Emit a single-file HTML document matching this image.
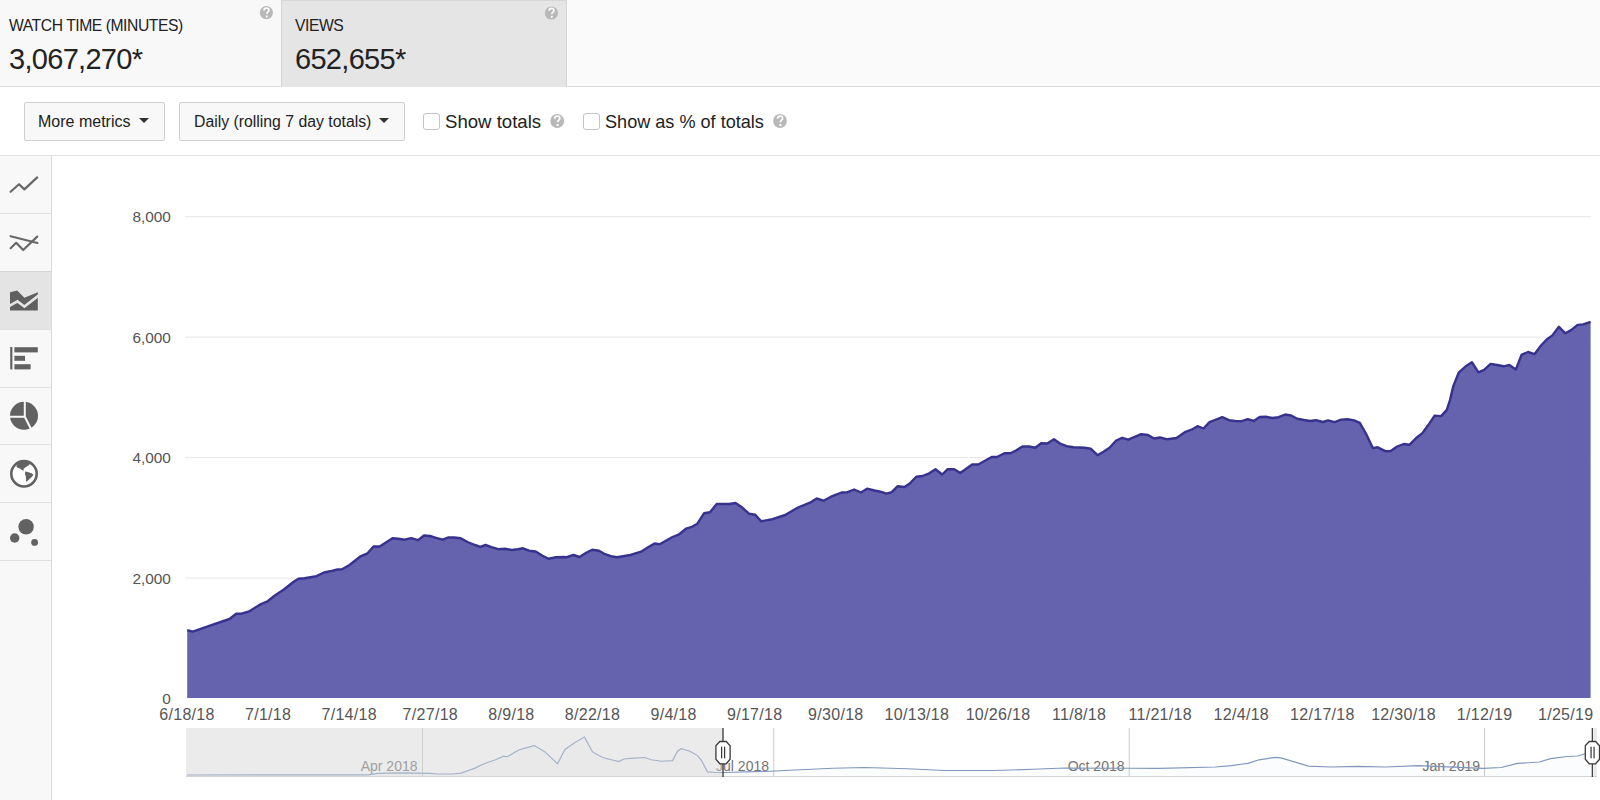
<!DOCTYPE html>
<html><head><meta charset="utf-8"><style>
*{box-sizing:border-box;margin:0;padding:0}
html,body{width:1600px;height:800px;overflow:hidden;background:#fff;font-family:"Liberation Sans",sans-serif;color:#222}
.abs{position:absolute}
#hdr{left:0;top:0;width:1600px;height:87px;background:#fafafa;border-bottom:1px solid #dcdcdc}
#m1{left:0;top:0;width:281px;height:86px;background:#f8f8f8}
#m2{left:281px;top:0;width:286px;height:87px;background:#e5e5e5;border:1px solid #d6d6d6;border-bottom:none}
.mt{font-size:15.7px;line-height:15px;color:#222;letter-spacing:-0.45px}
.mv{font-size:29px;line-height:28px;color:#222;letter-spacing:-0.7px}
#tb{left:0;top:87px;width:1600px;height:69px;background:#fff;border-bottom:1px solid #e3e3e3}
.btn{top:102px;height:39px;border:1px solid #cfcfcf;border-radius:2px;background:#f8f8f8;font-size:15.8px;line-height:37px;color:#222;padding-left:14px}
.btn i{position:absolute;top:15px;width:0;height:0;border-left:5px solid transparent;border-right:5px solid transparent;border-top:5px solid #333}
.cb{top:113px;width:17px;height:17px;border:1px solid #c4c4c4;border-radius:3px;background:#fff}
.cbl{top:112px;font-size:18.3px;line-height:20px;color:#222}
#side{left:0;top:156px;width:52px;height:644px;background:#f8f8f8;border-right:1px solid #dadada}
.cell{left:0;width:51px;border-bottom:1px solid #e0e0e0}
</style></head><body>
<div id="hdr" class="abs"></div>
<div id="m1" class="abs"></div>
<div id="m2" class="abs"></div>
<div class="abs mt" style="left:9px;top:18.3px">WATCH TIME (MINUTES)</div>
<div class="abs mv" style="left:9px;top:45px">3,067,270*</div>
<div class="abs mt" style="left:295px;top:18.3px">VIEWS</div>
<div class="abs mv" style="left:295px;top:45px">652,655*</div>
<div id="tb" class="abs"></div>
<div class="abs btn" style="left:24px;width:141px;font-size:16px;padding-left:13px">More metrics<i style="left:114px"></i></div>
<div class="abs btn" style="left:179px;width:226px;font-size:15.8px">Daily (rolling 7 day totals)<i style="left:199px"></i></div>
<div class="abs cb" style="left:423px"></div>
<div class="abs cbl" style="left:445px;font-size:18.6px">Show totals</div>
<div class="abs cb" style="left:583px"></div>
<div class="abs cbl" style="left:605px;font-size:18.1px">Show as % of totals</div>
<div id="side" class="abs"></div>
<div class="abs cell" style="top:156px;height:58px"></div>
<div class="abs cell" style="top:214px;height:58px;border-bottom-color:#d6d6d6"></div>
<div class="abs cell" style="top:272px;height:58px;width:50.5px;background:#e4e4e4"></div>
<div class="abs cell" style="top:330px;height:58px"></div>
<div class="abs cell" style="top:388px;height:57px"></div>
<div class="abs cell" style="top:445px;height:58px"></div>
<div class="abs cell" style="top:503px;height:58px"></div>
<svg class="abs" style="left:0;top:0" width="1600" height="800" viewBox="0 0 1600 800">
<g transform="translate(266.4,12.6) scale(1.0)"><circle r="6.6" fill="#b8b8b8"/><path d="M-2.4,-2.2 C-2.4,-4.2 -1.2,-4.6 0,-4.6 C1.6,-4.6 2.5,-3.6 2.5,-2.4 C2.5,-0.9 0.4,-0.6 0.4,1.2" fill="none" stroke="#fff" stroke-width="1.7"/><rect x="-0.6" y="2.9" width="1.9" height="1.9" fill="#fff"/></g>
<g transform="translate(551.4,13) scale(1.0)"><circle r="6.6" fill="#b8b8b8"/><path d="M-2.4,-2.2 C-2.4,-4.2 -1.2,-4.6 0,-4.6 C1.6,-4.6 2.5,-3.6 2.5,-2.4 C2.5,-0.9 0.4,-0.6 0.4,1.2" fill="none" stroke="#fff" stroke-width="1.7"/><rect x="-0.6" y="2.9" width="1.9" height="1.9" fill="#fff"/></g>
<g transform="translate(557.2,121) scale(1.0454545454545456)"><circle r="6.6" fill="#b8b8b8"/><path d="M-2.4,-2.2 C-2.4,-4.2 -1.2,-4.6 0,-4.6 C1.6,-4.6 2.5,-3.6 2.5,-2.4 C2.5,-0.9 0.4,-0.6 0.4,1.2" fill="none" stroke="#fff" stroke-width="1.7"/><rect x="-0.6" y="2.9" width="1.9" height="1.9" fill="#fff"/></g>
<g transform="translate(780,121) scale(1.0454545454545456)"><circle r="6.6" fill="#b8b8b8"/><path d="M-2.4,-2.2 C-2.4,-4.2 -1.2,-4.6 0,-4.6 C1.6,-4.6 2.5,-3.6 2.5,-2.4 C2.5,-0.9 0.4,-0.6 0.4,1.2" fill="none" stroke="#fff" stroke-width="1.7"/><rect x="-0.6" y="2.9" width="1.9" height="1.9" fill="#fff"/></g>
<g fill="none" stroke="#686868" stroke-width="2.2" stroke-linejoin="round" stroke-linecap="round">
<polyline points="10.6,191.8 19,184.2 24.4,189.4 37.2,177.4"/>
<polyline points="10.6,236.2 37.4,243"/>
<polyline points="10.6,248.2 16.2,242.8 23.2,250 37.2,236.6"/>
</g>
<path d="M10,292.2 L17.2,290.6 L24.4,297.8 L37.8,292.2 L37.8,310.4 L10,310.4 Z" fill="#606060"/>
<polyline points="9,306.2 17.4,301.4 24.4,306.6 38.5,295.6" fill="none" stroke="#e4e4e4" stroke-width="2.6"/>
<g fill="#626262">
<rect x="10.2" y="347" width="2.2" height="22.4"/>
<rect x="14.4" y="347.2" width="23.4" height="5.2"/>
<rect x="14.4" y="355.8" width="10.6" height="5"/>
<rect x="14.4" y="364.2" width="16.2" height="5.2"/>
<circle cx="24" cy="415.8" r="14"/>
</g>
<g stroke="#f8f8f8" stroke-width="2" fill="none"><path d="M24.8,401 L24.8,416.8 L9.5,416.8 M24.8,416.8 L31,429"/></g>
<circle cx="24" cy="473.8" r="12.7" fill="#fdfdfd" stroke="#626262" stroke-width="2.6"/>
<g fill="#626262">
<path d="M16.3,466.6 L18.3,468 L20.4,468.8 L22.2,470.2 L23.9,470.6 L23.5,468.8 L25.3,467.4 L27,466.3 L28.8,465.3 L30,463.5 L27,462 L24,461.4 L20,462.3 L17.3,464.6 Z"/>
<path d="M25.3,471.5 L27.8,471.9 L31.6,473.3 L33.4,474.7 L32,476.8 L29.5,478.9 L27.4,481 L26,481.8 L26,479.6 L25.9,476.8 L24.9,474 Z"/>
<circle cx="26.1" cy="526.8" r="7.7"/>
<circle cx="14.7" cy="538" r="4.7"/>
<circle cx="34.6" cy="542.4" r="3.4"/>
</g>
<rect x="185" y="216.2" width="1406" height="1" fill="#e6e6e6"/><rect x="185" y="336.6" width="1406" height="1" fill="#e6e6e6"/><rect x="185" y="457.1" width="1406" height="1" fill="#e6e6e6"/><rect x="185" y="577.5" width="1406" height="1" fill="#e6e6e6"/>
<path d="M187.2,630.2 L192.8,631.7 L210,625.7 L229.5,619 L236.2,613.7 L241.5,613.7 L249,611.5 L261,604 L267,601.7 L274.5,595.7 L283.5,589.7 L294,581.5 L298.5,578.8 L304.5,578.2 L316.5,576.2 L324,572.5 L330,571.3 L337.5,569.5 L342,569.2 L349.5,565 L360,556.7 L367.5,553.3 L373.5,546.5 L379.7,546.5 L392.5,538.2 L398.5,538.7 L404.5,539.7 L411.2,538.2 L418,540.2 L424,535.5 L430,536 L436,537.8 L442.7,539.7 L448,537.5 L454,537.5 L460.7,538.2 L467.5,542 L475,545 L480.2,546.8 L485.5,545 L491.5,547.2 L498.2,549.2 L505,548.7 L511.7,550 L517.7,549.2 L523,548.3 L529,550.7 L535.7,551.5 L542.5,555.8 L548.5,558.8 L556,557.3 L563.5,557 L566.7,557.2 L573.5,555 L579.5,557 L586.2,552.7 L592.2,549.7 L599,550.8 L605,554.2 L611,556.2 L617,557.2 L623,556.2 L630.5,555 L641,551.7 L647.7,547.5 L654.5,543.5 L659.7,544.2 L665,541.2 L672.5,537 L679.2,534.3 L686,528.7 L691.2,527.2 L697.2,523.8 L704,513.3 L710,512.2 L716.7,504 L723.5,504 L729.5,504 L735.5,503 L741.5,507 L749,513.7 L755.2,514.7 L761.2,521.3 L772.5,519.2 L785.2,515 L798,507.5 L810,502.7 L816.7,498.5 L823.5,500.7 L831,496.7 L841.5,492.5 L847.5,492.2 L854.2,489.5 L861,492.5 L867,488.7 L874.5,490.5 L880.5,491.7 L886.5,493.7 L891.7,492.2 L897.7,486.2 L904.5,487 L909.7,483.5 L916.5,476.7 L922.5,476 L929.2,473.3 L935.5,469.2 L942.2,474.5 L947.5,469.3 L954.2,469.3 L960.2,473 L972.2,464.5 L978.2,464.5 L991.7,457 L997,457 L1004.5,453.2 L1010.5,453.2 L1016.5,450.2 L1022.5,446.5 L1029.2,446.5 L1035.2,447.7 L1041.2,443.2 L1047.2,443.5 L1054,439.3 L1060,443.5 L1066.7,446.2 L1073.5,447.2 L1084.7,447.7 L1090.7,448.7 L1097.5,455.2 L1103.5,451.7 L1109.5,447.7 L1116.2,440.5 L1122.2,437.8 L1128.2,439.7 L1141.2,434.2 L1148,435 L1154,438.5 L1160,437.5 L1167.5,439.3 L1176.5,438 L1185.5,431.8 L1191.5,429.7 L1197.5,426.2 L1203.5,428.5 L1209.5,422.2 L1216.2,419.5 L1222.2,417.2 L1229,420.2 L1235,421 L1241,421.3 L1247.7,419.2 L1253.7,421 L1259.7,417 L1265.7,416.8 L1272.5,418 L1278.5,417.2 L1285.2,414.5 L1291.2,415.5 L1297.2,418.7 L1304,420 L1310,421 L1316,420.2 L1322.7,422 L1328.1,420.4 L1334.6,422.1 L1341.1,419.6 L1347.6,419.3 L1354.1,420.4 L1359.8,422.9 L1366.3,434.3 L1372.8,448.1 L1377.7,447.3 L1385.8,451.3 L1390.7,451 L1397.2,446.5 L1403.7,444 L1409.4,444.8 L1415.9,438.3 L1422.4,433.1 L1428.1,425.3 L1434.6,415.6 L1441.1,416.1 L1446.8,409.9 L1450,400.1 L1453.3,386.1 L1458.9,372.3 L1465.4,366.6 L1471.9,362.2 L1478.4,372.3 L1484.1,369.9 L1490.6,363.9 L1497.1,365 L1503.6,366.3 L1509.3,365 L1515.8,369.6 L1521.5,354.9 L1528,352 L1534.5,354.1 L1541,345.5 L1546.7,339.5 L1552.4,335.4 L1558.9,326.8 L1565.4,333.3 L1571.1,330.1 L1577.6,324.9 L1583.3,324.4 L1590.6,321.9 L1590.6,698 L187.2,698 Z" fill="#6563ae"/>
<path d="M187.2,630.2 L192.8,631.7 L210,625.7 L229.5,619 L236.2,613.7 L241.5,613.7 L249,611.5 L261,604 L267,601.7 L274.5,595.7 L283.5,589.7 L294,581.5 L298.5,578.8 L304.5,578.2 L316.5,576.2 L324,572.5 L330,571.3 L337.5,569.5 L342,569.2 L349.5,565 L360,556.7 L367.5,553.3 L373.5,546.5 L379.7,546.5 L392.5,538.2 L398.5,538.7 L404.5,539.7 L411.2,538.2 L418,540.2 L424,535.5 L430,536 L436,537.8 L442.7,539.7 L448,537.5 L454,537.5 L460.7,538.2 L467.5,542 L475,545 L480.2,546.8 L485.5,545 L491.5,547.2 L498.2,549.2 L505,548.7 L511.7,550 L517.7,549.2 L523,548.3 L529,550.7 L535.7,551.5 L542.5,555.8 L548.5,558.8 L556,557.3 L563.5,557 L566.7,557.2 L573.5,555 L579.5,557 L586.2,552.7 L592.2,549.7 L599,550.8 L605,554.2 L611,556.2 L617,557.2 L623,556.2 L630.5,555 L641,551.7 L647.7,547.5 L654.5,543.5 L659.7,544.2 L665,541.2 L672.5,537 L679.2,534.3 L686,528.7 L691.2,527.2 L697.2,523.8 L704,513.3 L710,512.2 L716.7,504 L723.5,504 L729.5,504 L735.5,503 L741.5,507 L749,513.7 L755.2,514.7 L761.2,521.3 L772.5,519.2 L785.2,515 L798,507.5 L810,502.7 L816.7,498.5 L823.5,500.7 L831,496.7 L841.5,492.5 L847.5,492.2 L854.2,489.5 L861,492.5 L867,488.7 L874.5,490.5 L880.5,491.7 L886.5,493.7 L891.7,492.2 L897.7,486.2 L904.5,487 L909.7,483.5 L916.5,476.7 L922.5,476 L929.2,473.3 L935.5,469.2 L942.2,474.5 L947.5,469.3 L954.2,469.3 L960.2,473 L972.2,464.5 L978.2,464.5 L991.7,457 L997,457 L1004.5,453.2 L1010.5,453.2 L1016.5,450.2 L1022.5,446.5 L1029.2,446.5 L1035.2,447.7 L1041.2,443.2 L1047.2,443.5 L1054,439.3 L1060,443.5 L1066.7,446.2 L1073.5,447.2 L1084.7,447.7 L1090.7,448.7 L1097.5,455.2 L1103.5,451.7 L1109.5,447.7 L1116.2,440.5 L1122.2,437.8 L1128.2,439.7 L1141.2,434.2 L1148,435 L1154,438.5 L1160,437.5 L1167.5,439.3 L1176.5,438 L1185.5,431.8 L1191.5,429.7 L1197.5,426.2 L1203.5,428.5 L1209.5,422.2 L1216.2,419.5 L1222.2,417.2 L1229,420.2 L1235,421 L1241,421.3 L1247.7,419.2 L1253.7,421 L1259.7,417 L1265.7,416.8 L1272.5,418 L1278.5,417.2 L1285.2,414.5 L1291.2,415.5 L1297.2,418.7 L1304,420 L1310,421 L1316,420.2 L1322.7,422 L1328.1,420.4 L1334.6,422.1 L1341.1,419.6 L1347.6,419.3 L1354.1,420.4 L1359.8,422.9 L1366.3,434.3 L1372.8,448.1 L1377.7,447.3 L1385.8,451.3 L1390.7,451 L1397.2,446.5 L1403.7,444 L1409.4,444.8 L1415.9,438.3 L1422.4,433.1 L1428.1,425.3 L1434.6,415.6 L1441.1,416.1 L1446.8,409.9 L1450,400.1 L1453.3,386.1 L1458.9,372.3 L1465.4,366.6 L1471.9,362.2 L1478.4,372.3 L1484.1,369.9 L1490.6,363.9 L1497.1,365 L1503.6,366.3 L1509.3,365 L1515.8,369.6 L1521.5,354.9 L1528,352 L1534.5,354.1 L1541,345.5 L1546.7,339.5 L1552.4,335.4 L1558.9,326.8 L1565.4,333.3 L1571.1,330.1 L1577.6,324.9 L1583.3,324.4 L1590.6,321.9" fill="none" stroke="#36328d" stroke-width="2.4" stroke-linejoin="round"/>
<g font-family="Liberation Sans" font-size="15.4" fill="#555"><text x="170.9" y="222.29999999999998" text-anchor="end">8,000</text><text x="170.9" y="342.70000000000005" text-anchor="end">6,000</text><text x="170.9" y="463.20000000000005" text-anchor="end">4,000</text><text x="170.9" y="583.6" text-anchor="end">2,000</text><text x="170.9" y="703.6" text-anchor="end">0</text></g>
<g font-family="Liberation Sans" font-size="16" fill="#555" letter-spacing="0.3"><text x="187.0" y="719.8" text-anchor="middle">6/18/18</text><text x="268.1" y="719.8" text-anchor="middle">7/1/18</text><text x="349.2" y="719.8" text-anchor="middle">7/14/18</text><text x="430.3" y="719.8" text-anchor="middle">7/27/18</text><text x="511.4" y="719.8" text-anchor="middle">8/9/18</text><text x="592.5" y="719.8" text-anchor="middle">8/22/18</text><text x="673.6" y="719.8" text-anchor="middle">9/4/18</text><text x="754.7" y="719.8" text-anchor="middle">9/17/18</text><text x="835.8" y="719.8" text-anchor="middle">9/30/18</text><text x="916.9" y="719.8" text-anchor="middle">10/13/18</text><text x="998.0" y="719.8" text-anchor="middle">10/26/18</text><text x="1079.1" y="719.8" text-anchor="middle">11/8/18</text><text x="1160.2" y="719.8" text-anchor="middle">11/21/18</text><text x="1241.3" y="719.8" text-anchor="middle">12/4/18</text><text x="1322.4" y="719.8" text-anchor="middle">12/17/18</text><text x="1403.5" y="719.8" text-anchor="middle">12/30/18</text><text x="1484.6" y="719.8" text-anchor="middle">1/12/19</text><text x="1565.7" y="719.8" text-anchor="middle">1/25/19</text></g>
<rect x="186" y="728" width="1411" height="48" fill="#fff"/>
<g fill="#ccc"><rect x="422.0" y="728" width="1" height="48"/><rect x="773.25" y="728" width="1" height="48"/><rect x="1128.75" y="728" width="1" height="48"/><rect x="1484.0" y="728" width="1" height="48"/></g>
<g font-family="Liberation Sans" font-size="14" fill="#737373"><text x="417.5" y="770.6" text-anchor="end">Apr 2018</text><text x="769" y="770.6" text-anchor="end">Jul 2018</text><text x="1124.5" y="770.6" text-anchor="end">Oct 2018</text><text x="1480" y="770.6" text-anchor="end">Jan 2019</text></g>
<path d="M187,775 L368,774.8 L378,773.3 L400,772.9 L416.2,773.1 L430,773.4 L437.5,774 L452.5,774 L461.2,773.1 L475,768.1 L481.2,765 L487.5,762.5 L495,760 L503.8,756.2 L506.9,756.9 L518.8,750 L525,748.1 L534.4,745.6 L545,751.9 L557.5,763.8 L565,749.4 L575,742.5 L584.4,737.1 L592.5,751.9 L602.5,757.5 L618.75,761.6 L623.75,759 L633.75,758.1 L645,757.5 L651.25,759.75 L661.25,761.25 L672.5,760.6 L677.5,751.25 L681.25,748.75 L690,751.25 L697.5,755.6 L701.25,760 L707.5,771.9 L715,772.5 L723,772.5 L770,771.25 L795,770 L832.5,768.25 L865,767.5 L907.5,768.75 L945,770.5 L995,770.5 L1032.5,769.25 L1065,768 L1127.5,768.25 L1160,768.3 L1215,767 L1231.5,765.6 L1242.5,764 L1248,763.4 L1259,759.8 L1275.5,757.3 L1281,757.9 L1308.5,766.1 L1330.5,767 L1358,766.4 L1385.5,767 L1418.5,765.6 L1483,768.3 L1501,767.5 L1517.5,763.4 L1539.5,762 L1550.5,758.7 L1567,756.5 L1578,756 L1585,753.75 L1592,752.5 L1592,776 L187,776 Z" fill="#4572a7" fill-opacity="0.025"/><path d="M187,775 L368,774.8 L378,773.3 L400,772.9 L416.2,773.1 L430,773.4 L437.5,774 L452.5,774 L461.2,773.1 L475,768.1 L481.2,765 L487.5,762.5 L495,760 L503.8,756.2 L506.9,756.9 L518.8,750 L525,748.1 L534.4,745.6 L545,751.9 L557.5,763.8 L565,749.4 L575,742.5 L584.4,737.1 L592.5,751.9 L602.5,757.5 L618.75,761.6 L623.75,759 L633.75,758.1 L645,757.5 L651.25,759.75 L661.25,761.25 L672.5,760.6 L677.5,751.25 L681.25,748.75 L690,751.25 L697.5,755.6 L701.25,760 L707.5,771.9 L715,772.5 L723,772.5 L770,771.25 L795,770 L832.5,768.25 L865,767.5 L907.5,768.75 L945,770.5 L995,770.5 L1032.5,769.25 L1065,768 L1127.5,768.25 L1160,768.3 L1215,767 L1231.5,765.6 L1242.5,764 L1248,763.4 L1259,759.8 L1275.5,757.3 L1281,757.9 L1308.5,766.1 L1330.5,767 L1358,766.4 L1385.5,767 L1418.5,765.6 L1483,768.3 L1501,767.5 L1517.5,763.4 L1539.5,762 L1550.5,758.7 L1567,756.5 L1578,756 L1585,753.75 L1592,752.5" fill="none" stroke="#7f96bd" stroke-width="1.2"/>
<rect x="186" y="728" width="537" height="48" fill="#d4d4d4" fill-opacity="0.46"/><rect x="1594" y="728" width="3" height="48" fill="#d4d4d4" fill-opacity="0.46"/>
<rect x="186" y="776" width="1411" height="1" fill="#d3d3d3"/>
<g transform="translate(723,752.5)"><line x1="0" y1="-24.5" x2="0" y2="24.5" stroke="#444" stroke-width="1.4"/><path d="M-3.2,-11 L3.2,-11 L7.1,-6.8 L7.1,6.8 L3.2,11.3 L-3.2,11.3 L-7.1,6.8 L-7.1,-6.8 Z" fill="#fff" stroke="#3a3a3a" stroke-width="1.3"/><rect x="-1.9" y="-5.8" width="1.1" height="11.6" fill="#222"/><rect x="1.1" y="-5.8" width="1.1" height="11.6" fill="#222"/></g>
<g transform="translate(1592.4,752.5)"><line x1="0" y1="-24.5" x2="0" y2="24.5" stroke="#444" stroke-width="1.4"/><path d="M-3.2,-11 L3.2,-11 L7.1,-6.8 L7.1,6.8 L3.2,11.3 L-3.2,11.3 L-7.1,6.8 L-7.1,-6.8 Z" fill="#fff" stroke="#3a3a3a" stroke-width="1.3"/><rect x="-1.9" y="-5.8" width="1.1" height="11.6" fill="#222"/><rect x="1.1" y="-5.8" width="1.1" height="11.6" fill="#222"/></g>
</svg>
</body></html>
